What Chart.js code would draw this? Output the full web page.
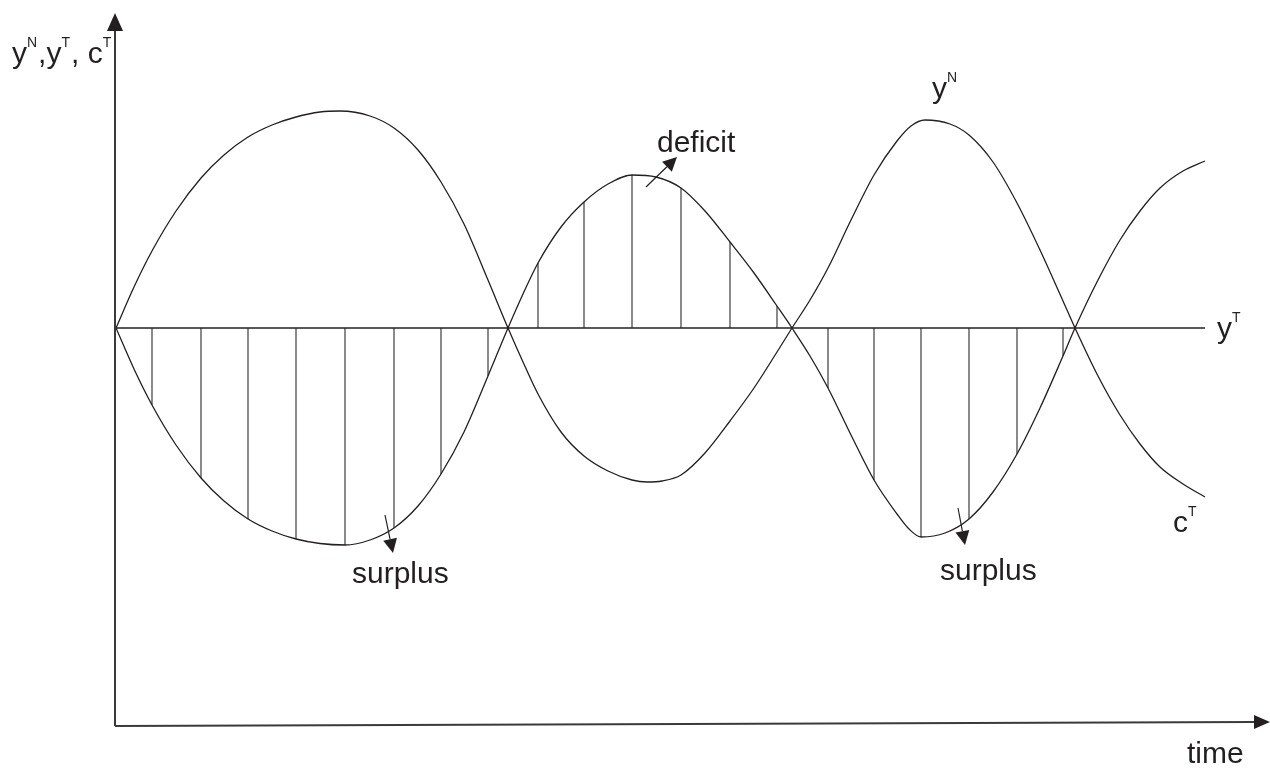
<!DOCTYPE html>
<html>
<head>
<meta charset="utf-8">
<script src="https://cdn.jsdelivr.net/npm/chart.js@4.4.1/dist/chart.umd.min.js"></script>
<style>
  html, body { margin: 0; padding: 0; background: #ffffff; }
  #wrap { width: 1270px; height: 769px; position: relative; }
</style>
</head>
<body>
<div id="wrap"><canvas id="c"></canvas></div>
<script>
// ---- data (time units on x, output units on y; y^T is the zero line) ----
const timeCT = [0, 0.18, 0.36, 0.60, 0.85, 1.08, 1.32, 1.56, 1.80, 2.04, 2.29, 2.54, 2.78, 3.02, 3.25, 3.48, 3.72, 3.92,
                4.07, 4.22, 4.45, 4.68, 4.92, 5.16, 5.40, 5.65, 5.89, 6.14, 6.38, 6.61, 6.76,
                6.94, 7.12, 7.35, 7.58, 7.81, 7.93, 8.05, 8.29, 8.53, 8.77, 9.01, 9.24, 9.47, 9.59,
                9.82, 10.04, 10.24, 10.44, 10.67, 10.89];
const cT     = [0, -0.41, -0.77, -1.17, -1.50, -1.73, -1.91, -2.03, -2.11, -2.155, -2.17, -2.12, -2.00, -1.78, -1.46, -1.04, -0.48, 0,
                0.34, 0.65, 1.01, 1.26, 1.44, 1.53, 1.51, 1.40, 1.17, 0.86, 0.55, 0.22, 0,
                -0.28, -0.60, -1.07, -1.52, -1.86, -2.01, -2.09, -2.05, -1.91, -1.64, -1.26, -0.80, -0.28, 0,
                0.48, 0.88, 1.17, 1.40, 1.57, 1.67];
const timeYN = [0, 0.18, 0.36, 0.60, 0.85, 1.08, 1.32, 1.56, 1.80, 2.04, 2.24, 2.54, 2.78, 3.02, 3.25, 3.48, 3.72, 3.92,
                4.07, 4.22, 4.45, 4.68, 4.92, 5.16, 5.31, 5.46, 5.65, 5.89, 6.14, 6.38, 6.61, 6.76,
                6.94, 7.12, 7.35, 7.58, 7.81, 7.95, 8.09, 8.34, 8.53, 8.77, 9.01, 9.24, 9.47, 9.59,
                9.82, 10.04, 10.24, 10.44, 10.67, 10.89];
const yN     = [0, 0.41, 0.77, 1.17, 1.50, 1.73, 1.91, 2.03, 2.11, 2.16, 2.17, 2.12, 2.00, 1.78, 1.46, 1.04, 0.48, 0,
                -0.34, -0.66, -1.04, -1.28, -1.43, -1.52, -1.54, -1.53, -1.47, -1.25, -0.93, -0.60, -0.24, 0,
                0.28, 0.60, 1.08, 1.53, 1.87, 2.02, 2.08, 2.04, 1.93, 1.66, 1.25, 0.78, 0.27, 0,
                -0.48, -0.87, -1.16, -1.39, -1.56, -1.69];
const yTLevel = 0;
const yTRange = [0, 10.89];
// hatching (vertical lines between y^T and c^T) at these times
const hatchTimes = [0.36, 0.85, 1.32, 1.80, 2.29, 2.78, 3.25, 3.72, 4.22, 4.68, 5.16, 5.65, 6.14, 6.61, 7.12, 7.58, 8.05, 8.53, 9.01, 9.47];

// ---- build datasets from the arrays ----
const pts = (xs, ys) => xs.map((x, i) => ({ x: x, y: ys[i] }));
const hatchData = [];
hatchTimes.forEach(t => {
  const i = timeCT.indexOf(t);
  hatchData.push({ x: t, y: yTLevel }, { x: t, y: cT[i] }, { x: t, y: null });
});

const INK = '#231f20';

// annotations (in data units)
const labels = [
  { parts: [['y', 0], ['N', 1], [',', 0], ['y', 0], ['T', 1], [', c', 0], ['T', 1]], x: -1.04, y: 2.65 },
  { parts: [['y', 0], ['N', 1]], x: 8.16, y: 2.30 },
  { parts: [['y', 0], ['T', 1]], x: 11.01, y: -0.10 },
  { parts: [['c', 0], ['T', 1]], x: 10.57, y: -2.04 },
  { parts: [['time', 0]], x: 10.71, y: -4.35 },
  { parts: [['deficit', 0]], x: 5.41, y: 1.76 },
  { parts: [['surplus', 0]], x: 2.36, y: -2.55 },
  { parts: [['surplus', 0]], x: 8.24, y: -2.52 }
];
const pointers = [
  { from: [5.30, 1.41], to: [5.61, 1.71] },
  { from: [2.69, -1.87], to: [2.77, -2.25] },
  { from: [8.42, -1.80], to: [8.49, -2.17] }
];
const axisY = { x: 0, from: -3.98, to: 3.15 };
const axisX = { from: [0, -3.98], to: [11.54, -3.94] };

function arrow(ctx, x1, y1, x2, y2, len, half) {
  const a = Math.atan2(y2 - y1, x2 - x1);
  const bx = x2 - len * Math.cos(a), by = y2 - len * Math.sin(a);
  ctx.beginPath();
  ctx.moveTo(x1, y1);
  ctx.lineTo(bx, by);
  ctx.stroke();
  ctx.beginPath();
  ctx.moveTo(x2, y2);
  ctx.lineTo(bx + half * Math.sin(a), by - half * Math.cos(a));
  ctx.lineTo(bx - half * Math.sin(a), by + half * Math.cos(a));
  ctx.closePath();
  ctx.fill();
}

const decor = {
  id: 'decor',
  afterDraw(chart) {
    const ctx = chart.ctx;
    const sx = chart.scales.x, sy = chart.scales.y;
    const px = v => sx.getPixelForValue(v), py = v => sy.getPixelForValue(v);
    ctx.save();
    // axes
    ctx.strokeStyle = '#3a3a3a';
    ctx.fillStyle = INK;
    ctx.lineWidth = 2;
    arrow(ctx, px(axisY.x) - 1, py(axisY.from), px(axisY.x) - 1, py(axisY.to), 18, 8);
    arrow(ctx, px(axisX.from[0]) - 1, py(axisX.from[1]), px(axisX.to[0]), py(axisX.to[1]), 16, 7);
    // pointer arrows
    ctx.strokeStyle = INK;
    ctx.lineWidth = 1.2;
    pointers.forEach(p => arrow(ctx, px(p.from[0]), py(p.from[1]), px(p.to[0]), py(p.to[1]), 14, 7));
    // labels
    ctx.fillStyle = INK;
    ctx.textBaseline = 'alphabetic';
    ctx.textAlign = 'left';
    labels.forEach(l => {
      let x = px(l.x);
      const y = py(l.y);
      l.parts.forEach(([txt, sup]) => {
        ctx.font = sup ? '14px "Liberation Sans", Arial, sans-serif' : '30px "Liberation Sans", Arial, sans-serif';
        ctx.fillText(txt, x, sup ? y - 16 : y);
        x += ctx.measureText(txt).width + (sup ? 1 : 0);
      });
    });
    ctx.restore();
  }
};

new Chart(document.getElementById('c'), {
  type: 'line',
  data: {
    datasets: [
      { label: 'y^N', data: pts(timeYN, yN), borderColor: INK, borderWidth: 1.3, cubicInterpolationMode: 'monotone', pointRadius: 0, fill: false },
      { label: 'c^T', data: pts(timeCT, cT), borderColor: INK, borderWidth: 1.3, cubicInterpolationMode: 'monotone', pointRadius: 0, fill: false },
      { label: 'y^T', data: yTRange.map(x => ({ x: x, y: yTLevel })), borderColor: INK, borderWidth: 1.3, pointRadius: 0, fill: false },
      { label: 'hatch', data: hatchData, borderColor: '#3c3c3c', borderWidth: 1.2, pointRadius: 0, spanGaps: false, tension: 0, fill: false }
    ]
  },
  options: {
    responsive: true,
    maintainAspectRatio: false,
    animation: false,
    layout: { padding: { left: 116, right: 0, top: 13, bottom: 43 } },
    plugins: { legend: { display: false }, tooltip: { enabled: false } },
    scales: {
      x: { type: 'linear', min: 0, max: 11.54, display: false },
      y: { type: 'linear', min: -3.98, max: 3.15, display: false }
    }
  },
  plugins: [decor]
});
</script>
</body>
</html>
